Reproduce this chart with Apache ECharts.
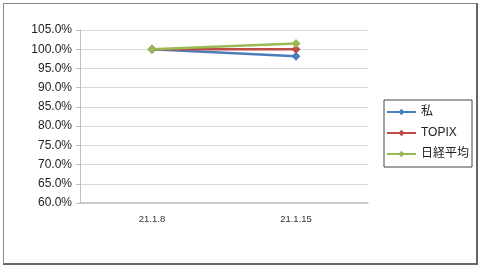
<!DOCTYPE html>
<html><head><meta charset="utf-8">
<script src="https://cdn.jsdelivr.net/npm/echarts@6/dist/echarts.min.js"></script>
<style>
html,body{margin:0;padding:0;background:#fff;}
#frame{position:absolute;left:3px;top:3px;width:472px;height:259px;border:1px solid #888;border-right:2px solid #666;border-bottom:2px solid #666;}
#c{position:absolute;left:0;top:0;width:480px;height:268px;}
</style></head>
<body>
<div id="frame"></div>
<div id="c"></div>
<script>
const categories = ['21.1.8', '21.1.15'];
const seriesNames = ['私', 'TOPIX', '日経平均'];
const watashi = [100.0, 98.2];
const topix = [100.0, 100.0];
const nikkei = [100.0, 101.5];
const yTicks = [60, 65, 70, 75, 80, 85, 90, 95, 100, 105];
const colors = ['#4a7ebb', '#be4b48', '#98b954'];

const chart = echarts.init(document.getElementById('c'), null, {renderer:'canvas'});
const mk = (name, data, color) => ({
  name, type:'line', data, symbol:'diamond', symbolSize:9,
  itemStyle:{color}, lineStyle:{color, width:2.5}, showSymbol:true
});
chart.setOption({
  animation:false,
  textStyle:{fontFamily:'Liberation Sans, "Noto Sans CJK JP"'},
  grid:{left:80, right:112, top:30, bottom:65},
  xAxis:{type:'category', data:categories, boundaryGap:true,
    axisLine:{lineStyle:{color:'#bfbfbf', width:1.5}}, axisTick:{show:false},
    axisLabel:{color:'#333', fontSize:9.5, margin:12}},
  yAxis:{type:'value', min:yTicks[0], max:yTicks[yTicks.length-1], interval:5,
    axisLine:{show:true, lineStyle:{color:'#bfbfbf'}},
    axisTick:{show:true, length:4, lineStyle:{color:'#bfbfbf'}},
    splitLine:{lineStyle:{color:'#d9d9d9', width:1}},
    axisLabel:{color:'#222', fontSize:12, margin:8, formatter:v=>v.toFixed(1)+'%'}},
  legend:{orient:'vertical', left:384, top:100,
    data:seriesNames, itemWidth:29, itemHeight:8, itemGap:9,
    borderColor:'#444', borderWidth:1, padding:[6,3,7,2],
    textStyle:{fontSize:12, color:'#222'}},
  series:[mk(seriesNames[0], watashi, colors[0]), mk(seriesNames[1], topix, colors[1]), mk(seriesNames[2], nikkei, colors[2])]
});
</script>
</body></html>
